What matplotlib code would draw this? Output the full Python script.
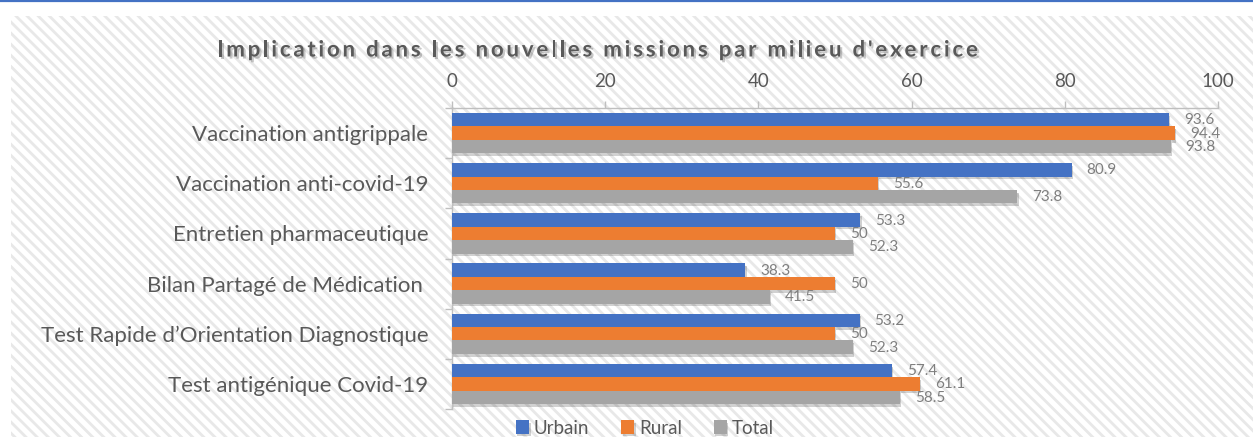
import matplotlib
matplotlib.use("Agg")
import matplotlib.pyplot as plt
import matplotlib.patheffects as pe
from matplotlib.patches import Rectangle
from matplotlib.lines import Line2D
from matplotlib.font_manager import FontProperties
import numpy as np

categories = [
    "Vaccination antigrippale",
    "Vaccination anti-covid-19",
    "Entretien pharmaceutique",
    "Bilan Partagé de Médication ",
    "Test Rapide d\u2019Orientation Diagnostique",
    "Test antigénique Covid-19",
]
urbain = [93.6, 80.9, 53.3, 38.3, 53.2, 57.4]
rural = [94.4, 55.6, 50, 50, 50, 61.1]
total = [93.8, 73.8, 52.3, 41.5, 52.3, 58.5]
series_names = ["Urbain", "Rural", "Total"]
xticks = [0, 20, 40, 60, 80, 100]
title = "Implication dans les nouvelles missions par milieu d'exercice"

colors = ["#4472C4", "#ED7D31", "#A5A5A5"]
txt = "#595959"
FONT = ["Lato", "DejaVu Sans"]

W, H = 1253, 437
plt.rcParams['hatch.linewidth'] = 2.0
plt.rcParams['hatch.color'] = '#e8e8e8'
plt.rcParams['font.family'] = FONT

fig = plt.figure(figsize=(W / 100, H / 100), dpi=100)
fig.patch.set_facecolor("white")

# hatched chart area background
bg = Rectangle((11 / W, 0), 1 - 11 / W, (H - 16) / H, transform=fig.transFigure,
               facecolor="white", edgecolor="#e8e8e8", hatch="\\\\\\", linewidth=0, zorder=-10)
fig.patches.append(bg)
# top blue line
fig.add_artist(Line2D([0, 1], [1 - 1.2 / H, 1 - 1.2 / H], transform=fig.transFigure,
                      color="#4472C4", linewidth=1.6))

ax = fig.add_axes([452 / W, 1 - 409 / H, (1218 - 452) / W, (409 - 108) / H])
ax.patch.set_alpha(0)

y = np.arange(len(categories))
h = 0.267
shadow = [pe.withSimplePatchShadow(offset=(1, -2), shadow_rgbFace="#000000", alpha=0.18)]
for i, (vals, c, name) in enumerate(zip([urbain, rural, total], colors, series_names)):
    off = (i - 1) * h
    bars = ax.barh(y + off, vals, height=h, color=c, label=name, zorder=3)
    for b in bars:
        b.set_path_effects(shadow)
    for yy, v in zip(y + off, vals):
        ax.annotate(f"{v:g}", xy=(v, yy), xytext=(15, -0.5), textcoords="offset pixels",
                    ha="left", va="center", fontsize=11, color="#7f7f7f", zorder=4)

ax.set_xlim(0, 100)
ax.set_ylim(len(categories) - 0.5, -0.5)
ax.xaxis.tick_top()
ax.set_xticks(xticks)
ax.set_xticklabels([str(t) for t in xticks], fontsize=13.5, color=txt)
ax.tick_params(axis="x", length=5, width=1, color="#bfbfbf", pad=8)

ax.set_yticks(np.arange(-0.5, len(categories), 1.0))
ax.set_yticklabels([])
ax.tick_params(axis="y", which="major", length=5, width=1, color="#bfbfbf")
ax.set_yticks(y, minor=True)
ax.set_yticklabels(categories, minor=True, fontsize=16, color=txt)
ax.tick_params(axis="y", which="minor", length=0, pad=17)

for s in ["right", "bottom"]:
    ax.spines[s].set_visible(False)
for s in ["left", "top"]:
    ax.spines[s].set_color("#bfbfbf")
    ax.spines[s].set_linewidth(1)

# legend
leg = fig.legend(loc="center", bbox_to_anchor=(645 / W, 1 - 428 / H), ncol=3, frameon=False,
                 fontsize=13.5, handlelength=0.7, handleheight=0.7, handletextpad=0.25,
                 columnspacing=1.7, borderaxespad=0)
for t in leg.get_texts():
    t.set_color(txt)

# title with letter spacing
renderer = fig.canvas.get_renderer()
fp = FontProperties(family=FONT, weight="bold", size=16)
def width_of(s):
    if not s:
        return 0.0
    w1, _, _ = renderer.get_text_width_height_descent(s + "|", fp, ismath=False)
    w2, _, _ = renderer.get_text_width_height_descent("|", fp, ismath=False)
    return w1 - w2
natural = width_of(title)
x0, x1 = 217, 978
sp = (x1 - x0 - natural) / (len(title) - 1)
ty = 1 - 50 / H
tshadow = [pe.withSimplePatchShadow(offset=(1.5, -1.5), shadow_rgbFace="#000000", alpha=0.22)]
for i, ch in enumerate(title):
    if ch == " ":
        continue
    px = x0 + width_of(title[:i]) + i * sp
    fig.text(px / W, ty, ch, fontproperties=fp, color=txt, va="center", ha="left",
             path_effects=tshadow)

fig.savefig("out.png", dpi=100)
